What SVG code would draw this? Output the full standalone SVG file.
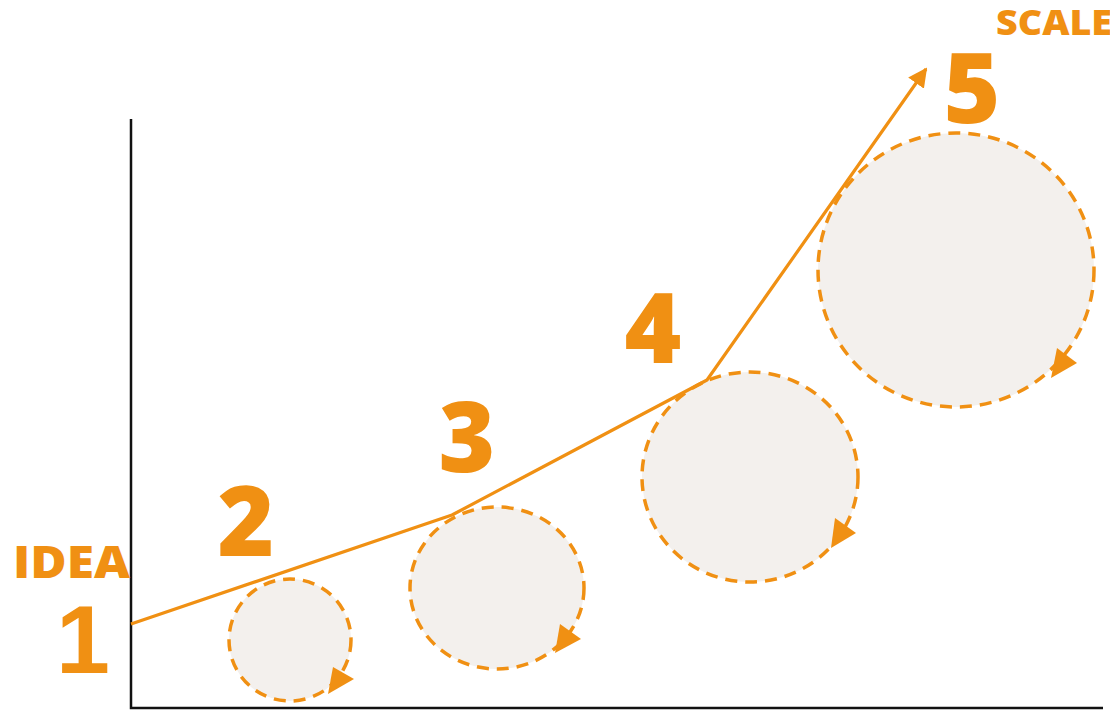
<svg xmlns="http://www.w3.org/2000/svg" width="1110" height="711" viewBox="0 0 1110 711">
<style>
.lbl{font-family:"Open Sans","Liberation Sans",sans-serif;font-weight:800;fill:#F09013}
.num{font-family:"Open Sans","Liberation Sans",sans-serif;font-weight:800;fill:#F09013;font-size:97px;text-anchor:middle}
.cyc{fill:#F3F0ED;stroke:#F09013;stroke-width:3.5;stroke-dasharray:12 8}
.tri{fill:#F09013}
.path{fill:none;stroke:#F09013;stroke-width:3.2;stroke-linejoin:round}
</style>
<defs>
<marker id="ah" viewBox="0 0 10 10" refX="9" refY="5" markerWidth="6" markerHeight="6" orient="auto">
<path d="M0,0 L10,5 L0,10 z" fill="#F09013"/>
</marker>
</defs>
<rect width="1110" height="711" fill="#fff"/>
<g id="axes" fill="none" stroke="#111" stroke-width="2.5">
<path d="M131,119 V708 H1103"/>
</g>
<g id="cycle1"><circle class="cyc" cx="290" cy="640" r="61"/><path class="tri" d="M333,667 L354,679 L328,694 z"/></g>
<g id="cycle2"><ellipse class="cyc" cx="497" cy="588" rx="87" ry="81"/><path class="tri" d="M560,624 L581,639 L555,653 z"/></g>
<g id="cycle3"><ellipse class="cyc" cx="750" cy="477" rx="108" ry="105"/><path class="tri" d="M835,518 L856,533 L831,548 z"/></g>
<g id="cycle4"><ellipse class="cyc" cx="956" cy="270" rx="138" ry="137"/><path class="tri" d="M1057,348 L1077,363 L1051,378 z"/></g>
<g id="connectors">
<path class="path" d="M131,624 L452,515 L707,380 L926,69" marker-end="url(#ah)"/>
</g>
<g id="labels">
<text class="lbl" x="13" y="578" font-size="44" textLength="117" lengthAdjust="spacingAndGlyphs">IDEA</text>
<text class="lbl" x="996" y="35" font-size="35" textLength="116" lengthAdjust="spacingAndGlyphs">SCALE</text>
<text class="num" x="83" y="673" style="font-family:'Liberation Sans',sans-serif;font-weight:700" font-size="98">1</text>
<text class="num" x="246" y="556">2</text>
<text class="num" x="467" y="472">3</text>
<text class="num" x="653" y="363">4</text>
<text class="num" x="972" y="123">5</text>
</g>
</svg>
